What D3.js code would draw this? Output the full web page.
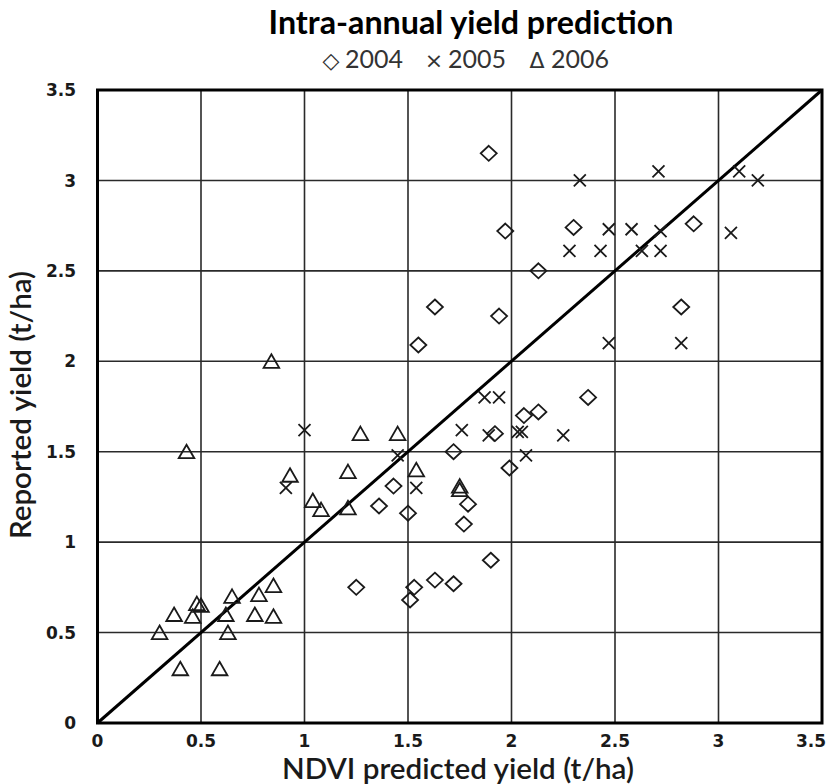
<!DOCTYPE html>
<html>
<head>
<meta charset="utf-8">
<script src="https://cdn.jsdelivr.net/npm/d3@7"></script>
<style>
  body { margin: 0; background: #fff; }
</style>
</head>
<body>
<svg id="chart"></svg>
<script>
// values
var years = ["2004", "2005", "2006"];
var tickValues = [0, 0.5, 1, 1.5, 2, 2.5, 3, 3.5];

var predicted2004 = [1.89, 1.97, 2.30, 2.13, 2.88, 1.63, 1.94, 1.55, 2.82, 2.37, 2.06, 2.13, 1.92,
  1.72, 1.99, 1.43, 1.36, 1.50, 1.79, 1.77, 1.90, 1.25, 1.53, 1.51, 1.63, 1.72];
var reported2004 = [3.15, 2.72, 2.74, 2.50, 2.76, 2.30, 2.25, 2.09, 2.30, 1.80, 1.70, 1.72, 1.60,
  1.50, 1.41, 1.31, 1.20, 1.16, 1.21, 1.10, 0.90, 0.75, 0.75, 0.68, 0.79, 0.77];

var predicted2005 = [2.33, 2.71, 3.10, 3.19, 2.47, 2.58, 2.72, 2.28, 2.43, 2.63, 2.72, 3.06, 2.47,
  2.82, 1.87, 1.94, 1.00, 1.76, 1.89, 2.03, 2.05, 2.25, 1.45, 2.07, 0.91, 1.54];
var reported2005 = [3.00, 3.05, 3.05, 3.00, 2.73, 2.73, 2.72, 2.61, 2.61, 2.61, 2.61, 2.71, 2.10,
  2.10, 1.80, 1.80, 1.62, 1.62, 1.59, 1.61, 1.61, 1.59, 1.48, 1.48, 1.30, 1.30];

var predicted2006 = [0.84, 0.43, 1.27, 1.45, 0.93, 1.21, 1.54, 1.75, 1.75, 1.04, 1.08, 1.21, 0.85,
  0.78, 0.65, 0.48, 0.50, 0.37, 0.46, 0.62, 0.76, 0.85, 0.30, 0.63, 0.40, 0.59];
var reported2006 = [2.00, 1.50, 1.60, 1.60, 1.37, 1.39, 1.40, 1.31, 1.29, 1.23, 1.18, 1.19, 0.76,
  0.71, 0.70, 0.66, 0.65, 0.60, 0.59, 0.60, 0.60, 0.59, 0.50, 0.50, 0.30, 0.30];

var W = 827, H = 784;
var plotLeft = 97.5, plotRight = 822, plotTop = 90, plotBottom = 723;
var ink = "#1a1a1a";
var titleFont = "Lato, 'Open Sans', sans-serif";

var svg = d3.select("#chart").attr("width", W).attr("height", H);

var x = d3.scaleLinear().domain([0, 3.5]).range([plotLeft, plotRight]);
var y = d3.scaleLinear().domain([0, 3.5]).range([plotBottom, plotTop]);

// grid
svg.append("g")
  .selectAll("line")
  .data(tickValues.slice(1, -1))
  .enter()
  .append("line")
  .attr("x1", (d) => x(d)).attr("x2", (d) => x(d))
  .attr("y1", plotTop).attr("y2", plotBottom)
  .attr("stroke", "#2a2a2a").attr("stroke-width", 1.6);
svg.append("g")
  .selectAll("line")
  .data(tickValues.slice(1, -1))
  .enter()
  .append("line")
  .attr("y1", (d) => y(d)).attr("y2", (d) => y(d))
  .attr("x1", plotLeft).attr("x2", plotRight)
  .attr("stroke", "#2a2a2a").attr("stroke-width", 1.6);

// 1:1 line
svg.append("line")
  .attr("x1", x(0)).attr("y1", y(0))
  .attr("x2", x(3.5)).attr("y2", y(3.5))
  .attr("stroke", "#000").attr("stroke-width", 3);

// markers
var shapes = {
  "2004": "M0,-7.5L8,0L0,7.5L-8,0Z",
  "2005": "M-6,-6L6,6M-6,6L6,-6",
  "2006": "M0,-7L7.8,6.5L-7.8,6.5Z"
};
var series = [
  { year: "2004", xs: predicted2004, ys: reported2004 },
  { year: "2005", xs: predicted2005, ys: reported2005 },
  { year: "2006", xs: predicted2006, ys: reported2006 }
];

series.forEach(function (s) {
  svg.append("g")
    .attr("class", "series-" + s.year)
    .selectAll("path")
    .data(s.xs.map((v, i) => [v, s.ys[i]]))
    .enter()
    .append("path")
    .attr("d", shapes[s.year])
    .attr("transform", (d) => "translate(" + x(d[0]) + "," + y(d[1]) + ")")
    .attr("fill", "none")
    .attr("stroke", ink)
    .attr("stroke-width", 1.8)
    .attr("stroke-linejoin", "miter");
});

// frame
svg.append("rect")
  .attr("x", plotLeft).attr("y", plotTop)
  .attr("width", plotRight - plotLeft).attr("height", plotBottom - plotTop)
  .attr("fill", "none").attr("stroke", "#000").attr("stroke-width", 3);

// tick labels
svg.append("g")
  .selectAll("text")
  .data(tickValues)
  .enter()
  .append("text")
  .attr("x", 76)
  .attr("y", (d) => y(d))
  .attr("dy", "0.36em")
  .attr("text-anchor", "end")
  .style("font-family", "'DejaVu Sans', Verdana, sans-serif")
  .style("font-weight", "bold")
  .style("font-size", "17px")
  .style("fill", ink)
  .text((d) => d);

var xLabels = svg.append("g")
  .selectAll("text")
  .data(tickValues)
  .enter()
  .append("text")
  .attr("x", (d) => x(d))
  .attr("y", 747)
  .attr("text-anchor", "middle")
  .style("font-family", "'DejaVu Sans', Verdana, sans-serif")
  .style("font-weight", "bold")
  .style("font-size", "17px")
  .style("fill", ink)
  .text((d) => d);
// keep the last label inside the page
xLabels.each(function () {
  var b = this.getBBox();
  if (b.x + b.width > W - 1) d3.select(this).attr("x", +d3.select(this).attr("x") - (b.x + b.width - W + 1));
});

function fitWidth(sel, w) {
  var l = sel.node().getComputedTextLength();
  var fs = parseFloat(sel.style("font-size"));
  sel.style("font-size", (fs * w) / l + "px");
}

// titles
var title = svg.append("text")
  .attr("x", 471).attr("y", 34)
  .attr("text-anchor", "middle")
  .style("font-family", titleFont)
  .style("font-weight", "bold")
  .style("font-size", "28px")
  .style("fill", "#000")
  .text("Intra-annual yield prediction");
fitWidth(title, 405);

var xTitle = svg.append("text")
  .attr("x", 458).attr("y", 779)
  .attr("text-anchor", "middle")
  .style("font-family", titleFont)
  .style("font-weight", 600)
  .style("font-size", "26px")
  .style("fill", ink)
  .text("NDVI predicted yield (t/ha)");
fitWidth(xTitle, 352);

var yTitle = svg.append("text")
  .attr("transform", "translate(31,405) rotate(-90)")
  .attr("text-anchor", "middle")
  .style("font-family", titleFont)
  .style("font-weight", 600)
  .style("font-size", xTitle.style("font-size"))
  .style("fill", ink)
  .text("Reported yield (t/ha)");

// legend
var legendSymbols = ["\u25C7", "\u00D7", "\u0394"];
var legend = svg.append("g")
  .selectAll("g")
  .data(years)
  .enter()
  .append("g")
  .attr("transform", (d, i) => "translate(" + (322 + i * 103) + ",68)");
legend.append("text")
  .attr("x", 9)
  .attr("text-anchor", "middle")
  .style("font-family", "'DejaVu Sans', sans-serif")
  .style("font-size", "22px")
  .style("fill", "#333")
  .text((d, i) => legendSymbols[i]);
legend.append("text")
  .attr("x", 23)
  .style("font-family", titleFont)
  .style("font-size", "25px")
  .style("fill", "#333")
  .text((d) => d);
</script>
</body>
</html>
